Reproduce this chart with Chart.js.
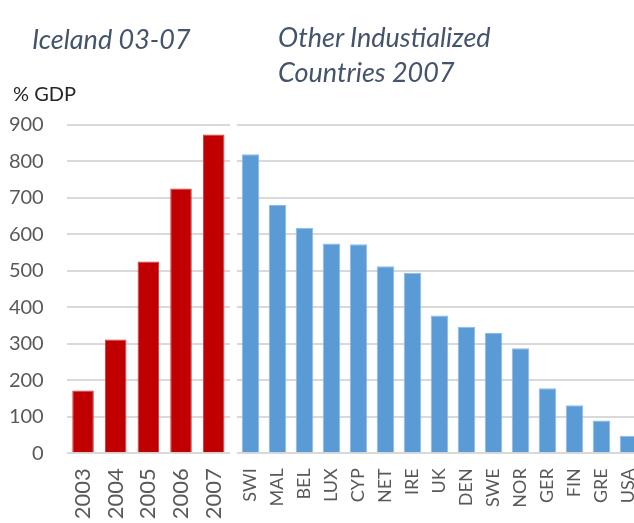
<!DOCTYPE html>
<html>
<head>
<meta charset="utf-8">
<script src="https://cdn.jsdelivr.net/npm/chart.js@4/dist/chart.umd.min.js"></script>
<style>
  html, body { margin: 0; padding: 0; background: #fff; }
  #wrap { position: relative; width: 634px; height: 523px; overflow: hidden; background: #fff; }
  .t { position: absolute; white-space: nowrap; font-family: Lato, sans-serif; }
  .title { font-style: italic; color: #44546a; }
  canvas { position: absolute; top: 0; }
</style>
</head>
<body>
<div id="wrap">
  <canvas id="left" width="234" height="523" style="left:0"></canvas>
  <canvas id="right" width="405" height="523" style="left:237px"></canvas>
  <div class="t title" style="left:32px; top:25px; font-size:27px; line-height:27px;">Iceland 03-07</div>
  <div class="t title" style="left:278px; top:19px; font-size:27px; line-height:35px;">Other Industialized<br>Countries 2007</div>
  <div class="t" style="left:13px; top:83px; font-size:20px; line-height:20px; color:#262626;">% GDP</div>
</div>
<script>
const icelandYears = ['2003', '2004', '2005', '2006', '2007'];
const icelandValues = [172, 312, 526, 726, 874];
const countries = ['SWI', 'MAL', 'BEL', 'LUX', 'CYP', 'NET', 'IRE', 'UK', 'DEN', 'SWE', 'NOR', 'GER', 'FIN', 'GRE', 'USA'];
const countryValues = [820, 681, 618, 575, 573, 513, 495, 378, 347, 330, 288, 178, 132, 90, 48];
const yMin = 0, yMax = 900, yStep = 100;

const gridColor = '#d9d9d9';

function makeChart(id, labels, values, color, border, opts) {
  return new Chart(document.getElementById(id), {
    type: 'bar',
    data: {
      labels: labels,
      datasets: [{
        data: values,
        backgroundColor: color,
        borderColor: border,
        borderWidth: 1,
        categoryPercentage: 1,
        barPercentage: opts.barPct
      }]
    },
    options: {
      responsive: false,
      animation: false,
      devicePixelRatio: 1,
      layout: { padding: { top: 125, right: opts.padRight, left: 0, bottom: 0 } },
      plugins: { legend: { display: false }, tooltip: { enabled: false } },
      scales: {
        x: {
          grid: { display: false, drawTicks: false },
          border: { display: false },
          ticks: {
            color: '#595959',
            font: { family: 'Lato', size: opts.xFont },
            minRotation: 90, maxRotation: 90,
            padding: 15,
            autoSkip: false
          },
          afterFit: s => { s.height = 69.7; s.paddingLeft = 0; s.paddingRight = 0; }
        },
        y: {
          min: yMin, max: yMax,
          grid: { color: gridColor, lineWidth: 2, drawTicks: false },
          border: { display: false },
          ticks: {
            display: opts.showY,
            stepSize: yStep,
            color: '#595959',
            font: { family: 'Lato', size: 20 },
            padding: 23
          },
          afterFit: s => { s.width = opts.yWidth; s.paddingTop = 0; s.paddingBottom = 0; }
        }
      }
    }
  });
}

makeChart('left', icelandYears, icelandValues, '#c00000', '#d23a3a',
  { barPct: 0.66, padRight: 4, xFont: 22, showY: true, yWidth: 66.7 });
makeChart('right', countries, countryValues, '#5b9bd5', '#8cbbe6',
  { barPct: 0.65, padRight: 0, xFont: 18, showY: false, yWidth: 0 });
</script>
</body>
</html>
